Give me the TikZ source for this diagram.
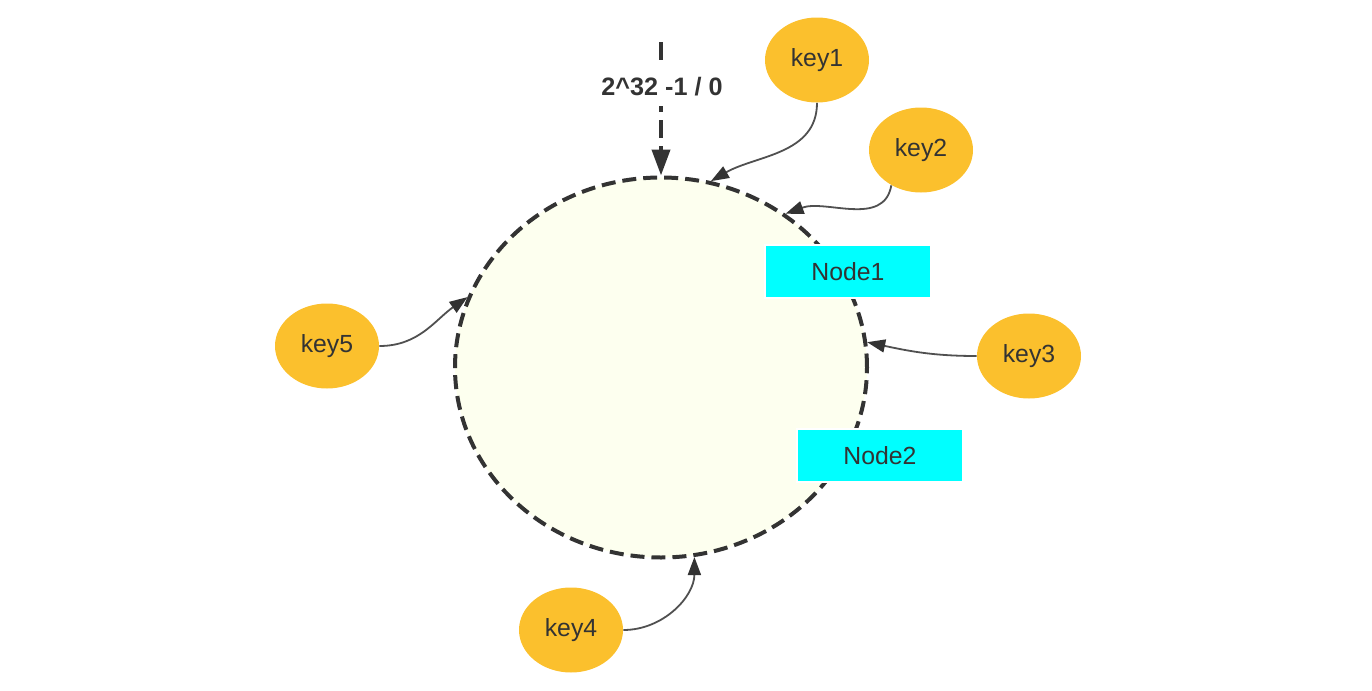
\documentclass[tikz,border=0pt]{standalone}
\usepackage{fontspec}
\setmainfont{Liberation Sans}
\usetikzlibrary{arrows.meta,positioning,shapes.geometric}
\definecolor{fkey}{HTML}{FBC02D}
\definecolor{fnode}{HTML}{00FFFF}
\definecolor{fring}{HTML}{FDFFEF}
\definecolor{fink}{HTML}{333333}
\definecolor{flink}{HTML}{505050}

\begin{document}
\begin{tikzpicture}[x=0.5pt, y=0.5pt, font=\fontsize{12.4}{14}\selectfont, text=fink,
  keynode/.style={ellipse, fill=fkey, minimum width=52pt, minimum height=42.5pt, inner sep=0pt},
  nodebox/.style={rectangle, fill=fnode, draw=white, line width=1.2pt,
    minimum width=83pt, minimum height=26.5pt, inner sep=0pt},
  link/.style={flink, line width=0.9pt, -{Triangle[length=9pt,width=6.5pt,color=fink]}}]
\useasboundingbox (0,0) rectangle (1372,-691);
% ---------- hash ring ----------
\node[ellipse, draw=fink, fill=fring, line width=2pt, dash pattern=on 7pt off 3.5pt,
  minimum width=206pt, minimum height=190pt, inner sep=0pt] (ring) at (661,-367.5) {};
\node[nodebox] (node1) at (848,-271.5) {Node1};
\node[nodebox] (node2) at (880,-455.5) {Node2};
% ---------- zero point ----------
\coordinate (top) at (661,-42);
\draw[fink, line width=2pt, dash pattern=on 9pt off 4pt,
  -{Triangle[length=13pt,width=9pt]}] (top) -- (ring.north);
\node[fill=white, font=\fontsize{12.6}{14}\selectfont\bfseries, inner xsep=2pt, inner ysep=5pt]
  (zero) at (662,-87) {2{\char"5E}32 -1 / 0};
% ---------- keys ----------
\node[keynode] (key1) at (817,-60) {key1};
\node[keynode] (key2) at (921,-150) {key2};
\node[keynode] (key3) at (1029,-356) {key3};
\node[keynode] (key4) at (571,-630) {key4};
\node[keynode] (key5) at (327,-346) {key5};
\draw[link] (key1.south) to[out=-90, in=30] (ring.75.6);
\draw[link] (key2.-130) to[out=-100, in=20] (ring.51.4);
\draw[link] (key3.west) to[out=180, in=-12] (ring.7);
\draw[link] (key4.east) to[out=0, in=-90] (ring.-80.5);
\draw[link] (key5.east) to[out=0, in=-145] (ring.160);
\end{tikzpicture}
\end{document}
